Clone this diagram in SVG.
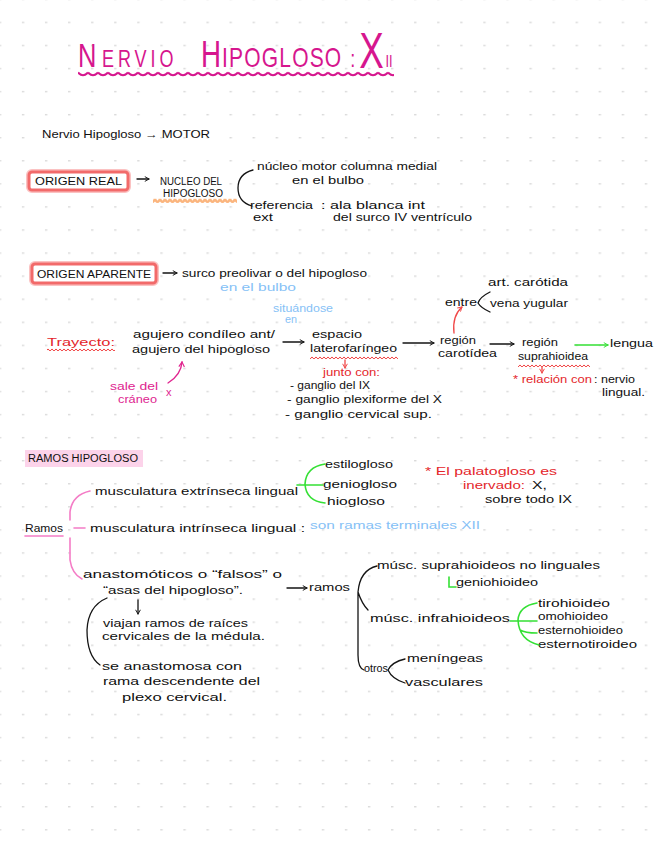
<svg xmlns="http://www.w3.org/2000/svg" width="656" height="848" viewBox="0 0 656 848">
<style>
text{font-family:"Liberation Sans",Arial,sans-serif;font-size:11px;fill:#101010}
.r{fill:#e4262b}
.p{fill:#de2590}
.b{fill:#86c1f6}
.cap{font-size:10px}
.m{fill:#d6168e;font-family:"Liberation Sans",Arial,sans-serif}
.ln{fill:none;stroke:#141414;stroke-width:1.3;stroke-linecap:round}
.lr{fill:none;stroke:#f04848;stroke-width:1.3;stroke-linecap:round}
.lg{fill:none;stroke:#35e035;stroke-width:1.6;stroke-linecap:round}
.lp{fill:none;stroke:#f47cc6;stroke-width:1.6;stroke-linecap:round}
.lpk{fill:none;stroke:#e0258f;stroke-width:1.4;stroke-linecap:round}
.box{fill:#fff;stroke:#f26a6a;stroke-width:3}
.glow{fill:none;stroke:#fbc2c2;stroke-width:6}
</style>
<defs>
<pattern id="dots" x="-1.2" y="-1.4" width="23.07" height="23.07" patternUnits="userSpaceOnUse"><rect x="0" y="0" width="2.4" height="1.4" fill="#dadada"/></pattern>
<pattern id="wTitle" x="78" y="71" width="10" height="8" patternUnits="userSpaceOnUse"><path d="M0,1.5 Q5,7 10,1.5" fill="none" stroke="#d6168e" stroke-width="2"/></pattern>
<pattern id="wRed" x="0" y="0" width="4" height="4" patternUnits="userSpaceOnUse"><path d="M0,0.8 Q2,4.6 4,0.8" fill="none" stroke="#f04848" stroke-width="1"/></pattern>
<pattern id="wOrange" x="0" y="197" width="5" height="8" patternUnits="userSpaceOnUse"><path d="M0,2 Q2.5,7.5 5,2" fill="none" stroke="#fbb57e" stroke-width="2.4"/></pattern>
<marker id="ak" viewBox="0 0 10 10" refX="9" refY="5" markerWidth="6" markerHeight="6" orient="auto" markerUnits="userSpaceOnUse"><path d="M2,1 L9,5 L2,9" fill="none" stroke="#141414" stroke-width="1.6"/></marker>
<marker id="ar" viewBox="0 0 10 10" refX="9" refY="5" markerWidth="6" markerHeight="6" orient="auto" markerUnits="userSpaceOnUse"><path d="M2,1 L9,5 L2,9" fill="none" stroke="#f04848" stroke-width="1.6"/></marker>
<marker id="ag" viewBox="0 0 10 10" refX="9" refY="5" markerWidth="6" markerHeight="6" orient="auto" markerUnits="userSpaceOnUse"><path d="M2,1 L9,5 L2,9" fill="none" stroke="#35e035" stroke-width="1.6"/></marker>
<marker id="ap" viewBox="0 0 10 10" refX="9" refY="5" markerWidth="7" markerHeight="7" orient="auto" markerUnits="userSpaceOnUse"><path d="M2,1 L9,5 L2,9" fill="none" stroke="#e0258f" stroke-width="1.6"/></marker>
</defs>
<rect width="656" height="848" fill="#ffffff"/>
<rect width="656" height="848" fill="url(#dots)"/>

<g id="title">
<text class="m" y="67" transform="scale(0.75,1)"><tspan x="104" font-size="34">N</tspan><tspan x="136" font-size="24" letter-spacing="5.3">ERVIO</tspan><tspan x="268" font-size="37">H</tspan><tspan x="296" font-size="28" letter-spacing="1.6">IPOGLOSO</tspan><tspan x="467" font-size="24">:</tspan><tspan x="479" font-size="49" dy="1">X</tspan><tspan x="514" font-size="17" dy="-1">II</tspan></text>
<rect x="78" y="71" width="316" height="8" fill="url(#wTitle)"/>
</g>

<g id="intro"><text x="42" y="138" font-size="12" textLength="168" lengthAdjust="spacingAndGlyphs">Nervio Hipogloso → MOTOR</text></g>

<g id="origen-real">
<rect class="glow" x="29" y="172" width="99" height="18" rx="3"/>
<rect class="box" x="29" y="172" width="99" height="18" rx="3"/>
<text class="cap" x="35" y="185" textLength="87" lengthAdjust="spacingAndGlyphs">ORIGEN REAL</text>
</g>
<g id="nucleo">
<text class="cap" x="160" y="185" textLength="62" lengthAdjust="spacingAndGlyphs">NUCLEO DEL</text>
<text class="cap" x="163" y="197" textLength="60" lengthAdjust="spacingAndGlyphs">HIPOGLOSO</text>
<rect x="153" y="197" width="84" height="8" fill="url(#wOrange)"/>
</g>
<g id="nucleo-motor">
<text x="257" y="170" textLength="180" lengthAdjust="spacingAndGlyphs">núcleo motor columna medial</text>
<text x="292" y="184" textLength="72" lengthAdjust="spacingAndGlyphs">en el bulbo</text>
</g>
<g id="referencia">
<text x="250" y="209" font-size="10" textLength="63" lengthAdjust="spacingAndGlyphs">referencia</text>
<text x="321" y="209" font-size="10" textLength="104" lengthAdjust="spacingAndGlyphs">: ala blanca int</text>
<text x="253" y="221" font-size="10" textLength="20" lengthAdjust="spacingAndGlyphs">ext</text>
<text x="333" y="221" font-size="10" textLength="139" lengthAdjust="spacingAndGlyphs">del surco IV ventrículo</text>
</g>

<g id="origen-aparente">
<rect class="glow" x="32" y="264" width="124" height="19" rx="3"/>
<rect class="box" x="32" y="264" width="124" height="19" rx="3"/>
<text class="cap" x="37" y="278" textLength="114" lengthAdjust="spacingAndGlyphs">ORIGEN APARENTE</text>
</g>
<g id="surco">
<text x="182" y="277" textLength="185" lengthAdjust="spacingAndGlyphs">surco preolivar o del hipogloso</text>
<text class="b" x="220" y="291" textLength="76" lengthAdjust="spacingAndGlyphs">en el bulbo</text>
</g>

<g id="trayecto">
<text class="r" x="47" y="346" font-size="13" textLength="68" lengthAdjust="spacingAndGlyphs">Trayecto:</text>
<rect x="47" y="348" width="68" height="4" fill="url(#wRed)"/>
</g>
<g id="agujero">
<text x="133" y="338" textLength="142" lengthAdjust="spacingAndGlyphs">agujero condíleo ant/</text>
<text x="132" y="353" textLength="138" lengthAdjust="spacingAndGlyphs">agujero del hipogloso</text>
</g>
<g id="sale">
<text class="p" x="110" y="390" textLength="48" lengthAdjust="spacingAndGlyphs">sale del</text>
<text class="p" x="118" y="403" textLength="39" lengthAdjust="spacingAndGlyphs">cráneo</text>
<text class="p" x="166" y="396" font-size="10">x</text>
</g>
<g id="situandose">
<text class="b" x="273" y="312" font-size="9" textLength="60" lengthAdjust="spacingAndGlyphs">situándose</text>
<text class="b" x="285" y="323" font-size="9" textLength="12" lengthAdjust="spacingAndGlyphs">en</text>
</g>
<g id="espacio">
<text x="312" y="338" textLength="50" lengthAdjust="spacingAndGlyphs">espacio</text>
<text x="310" y="352" textLength="87" lengthAdjust="spacingAndGlyphs">laterofaríngeo</text>
<rect x="310" y="356" width="88" height="4" fill="url(#wRed)"/>
</g>
<g id="junto">
<text class="r" x="323" y="376" font-size="10" textLength="57" lengthAdjust="spacingAndGlyphs">junto con:</text>
<text x="290" y="389" textLength="80" lengthAdjust="spacingAndGlyphs">- ganglio del IX</text>
<text x="287" y="403" textLength="155" lengthAdjust="spacingAndGlyphs">- ganglio plexiforme del X</text>
<text x="285" y="418" textLength="147" lengthAdjust="spacingAndGlyphs">- ganglio cervical sup.</text>
</g>
<g id="region-carotidea">
<text x="440" y="344" textLength="36" lengthAdjust="spacingAndGlyphs">región</text>
<text x="438" y="357" textLength="59" lengthAdjust="spacingAndGlyphs">carotídea</text>
</g>
<g id="entre">
<text x="445" y="306" textLength="32" lengthAdjust="spacingAndGlyphs">entre</text>
<text x="488" y="286" textLength="80" lengthAdjust="spacingAndGlyphs">art. carótida</text>
<text x="490" y="307" textLength="78" lengthAdjust="spacingAndGlyphs">vena yugular</text>
</g>
<g id="region-suprahioidea">
<text x="522" y="346" textLength="36" lengthAdjust="spacingAndGlyphs">región</text>
<text x="518" y="360" textLength="70" lengthAdjust="spacingAndGlyphs">suprahioidea</text>
<rect x="518" y="364" width="72" height="4" fill="url(#wRed)"/>
<text class="r" x="513" y="383" font-size="10" textLength="79" lengthAdjust="spacingAndGlyphs">* relación con</text>
<text x="594" y="383" textLength="41" lengthAdjust="spacingAndGlyphs">: nervio</text>
<text x="602" y="396" textLength="43" lengthAdjust="spacingAndGlyphs">lingual.</text>
</g>
<g id="lengua"><text x="610" y="347" textLength="43" lengthAdjust="spacingAndGlyphs">lengua</text></g>

<g id="ramos-hipogloso">
<rect x="25" y="450" width="118" height="17" fill="#fcd3ea"/>
<text class="cap" x="28" y="462" textLength="110" lengthAdjust="spacingAndGlyphs">RAMOS HIPOGLOSO</text>
</g>
<g id="ramos">
<text x="25" y="532" textLength="38" lengthAdjust="spacingAndGlyphs">Ramos</text>
<line class="lp" x1="25" y1="536" x2="63" y2="536"/>
</g>
<g id="extrinseca">
<text x="95" y="495" textLength="203" lengthAdjust="spacingAndGlyphs">musculatura extrínseca lingual</text>
<text x="325" y="468" textLength="68" lengthAdjust="spacingAndGlyphs">estilogloso</text>
<text x="323" y="488" textLength="74" lengthAdjust="spacingAndGlyphs">geniogloso</text>
<text x="327" y="505" textLength="58" lengthAdjust="spacingAndGlyphs">hiogloso</text>
</g>
<g id="palatogloso">
<text class="r" x="425" y="475" textLength="132" lengthAdjust="spacingAndGlyphs">* El palatogloso es</text>
<text class="r" x="463" y="489" textLength="62" lengthAdjust="spacingAndGlyphs">inervado:</text>
<text x="532" y="489" textLength="15" lengthAdjust="spacingAndGlyphs">X,</text>
<text x="485" y="503" textLength="87" lengthAdjust="spacingAndGlyphs">sobre todo IX</text>
</g>
<g id="intrinseca">
<text x="90" y="532" textLength="215" lengthAdjust="spacingAndGlyphs">musculatura intrínseca lingual :</text>
<text class="b" x="310" y="529" textLength="170" lengthAdjust="spacingAndGlyphs">son ramas terminales XII</text>
</g>
<g id="anastomoticos">
<text x="83" y="578" textLength="199" lengthAdjust="spacingAndGlyphs">anastomóticos o “falsos” o</text>
<text x="103" y="594" textLength="140" lengthAdjust="spacingAndGlyphs">“asas del hipogloso”.</text>
<text x="309" y="591" textLength="41" lengthAdjust="spacingAndGlyphs">ramos</text>
</g>
<g id="viajan">
<text x="103" y="627" textLength="145" lengthAdjust="spacingAndGlyphs">viajan ramos de raíces</text>
<text x="102" y="640" textLength="163" lengthAdjust="spacingAndGlyphs">cervicales de la médula.</text>
</g>
<g id="se-anastomosa">
<text x="102" y="670" textLength="140" lengthAdjust="spacingAndGlyphs">se anastomosa con</text>
<text x="103" y="685" textLength="157" lengthAdjust="spacingAndGlyphs">rama descendente del</text>
<text x="122" y="701" textLength="105" lengthAdjust="spacingAndGlyphs">plexo cervical.</text>
</g>
<g id="suprahioideos">
<text x="377" y="569" textLength="223" lengthAdjust="spacingAndGlyphs">músc. suprahioideos no linguales</text>
<text x="456" y="586" textLength="82" lengthAdjust="spacingAndGlyphs">geniohioideo</text>
</g>
<g id="infrahioideos">
<text x="370" y="622" textLength="140" lengthAdjust="spacingAndGlyphs">músc. infrahioideos</text>
<text x="538" y="607" font-size="10" textLength="72" lengthAdjust="spacingAndGlyphs">tirohioideo</text>
<text x="538" y="620" font-size="10" textLength="70" lengthAdjust="spacingAndGlyphs">omohioideo</text>
<text x="538" y="634" font-size="10" textLength="85" lengthAdjust="spacingAndGlyphs">esternohioideo</text>
<text x="538" y="648" font-size="10" textLength="99" lengthAdjust="spacingAndGlyphs">esternotiroideo</text>
</g>
<g id="otros">
<text x="364" y="672" textLength="24" lengthAdjust="spacingAndGlyphs">otros</text>
<text x="407" y="662" textLength="76" lengthAdjust="spacingAndGlyphs">meníngeas</text>
<text x="405" y="686" textLength="78" lengthAdjust="spacingAndGlyphs">vasculares</text>
</g>

<g id="connectors">
<path class="ln" d="M137,179 L149,179" marker-end="url(#ak)"/>
<path class="ln" d="M253,170 Q238,174 238,188 Q238,202 252,206"/>
<path class="ln" d="M163,273 L177,273" marker-end="url(#ak)"/>
<path class="lpk" d="M168,383 Q181,375 182,362" marker-end="url(#ap)"/>
<path class="ln" d="M283,342 L304,342" marker-end="url(#ak)"/>
<path class="lr" d="M345,360 L345,368" marker-end="url(#ar)"/>
<path class="ln" d="M403,343 L434,343" marker-end="url(#ak)"/>
<path class="lr" d="M454,333 Q452,316 462,307" marker-end="url(#ar)"/>
<path class="ln" d="M490,292 Q480,297 478,303 Q481,308 490,312"/>
<path class="ln" d="M490,344 L514,344" marker-end="url(#ak)"/>
<path class="lr" d="M542,367 L542,373" marker-end="url(#ar)"/>
<path class="lg" d="M575,345 L608,345" marker-end="url(#ag)"/>
<path class="lg" d="M325,464 Q306,467 305,484 Q306,501 325,503 M297,485 L323,485"/>
<path class="lp" d="M90,491 Q72,495 70,512 L70,520 M74,528 L85,528 M70,538 L70,560 Q72,574 82,579"/>
<path class="ln" d="M287,588 L307,588" marker-end="url(#ak)"/>
<path class="ln" d="M138,600 L138,614" marker-end="url(#ak)"/>
<path class="ln" d="M107,598 Q88,606 87,630 Q87,656 100,665"/>
<path class="ln" d="M377,566 Q360,570 358,592 L358,655 Q358,668 364,670 M358,592 Q362,604 368,610"/>
<path class="lg" d="M449,577 L449,587 L456,587"/>
<path class="lg" d="M537,603 Q519,606 518,620 Q519,640 539,645 M510,621 L537,621 M520,630 Q525,633 537,633"/>
<path class="ln" d="M405,659 Q392,662 388,670 Q392,679 405,683"/>
</g>
</svg>
